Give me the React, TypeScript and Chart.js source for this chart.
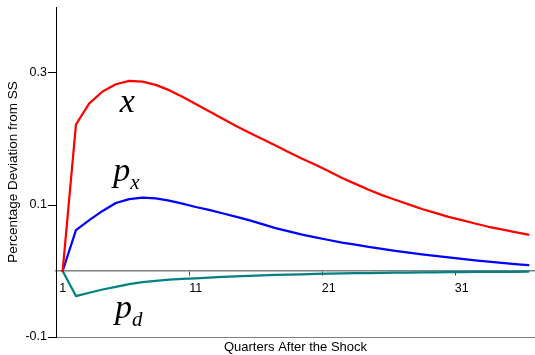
import React, { useEffect, useRef } from "react";
import { Chart, registerables } from "chart.js";

Chart.register(...registerables);

// Quarters after the shock (category axis)
const quarters = [
  "1", "2", "3", "4", "5", "6", "7", "8", "9", "10",
  "11", "12", "13", "14", "15", "16", "17", "18", "19", "20",
  "21", "22", "23", "24", "25", "26", "27", "28", "29", "30",
  "31", "32", "33", "34", "35", "36",
];

// Impulse responses, deviation from steady state
const outputX = [
  0, 0.222, 0.254, 0.272, 0.283, 0.288, 0.287, 0.282, 0.274, 0.264,
  0.253, 0.242, 0.231, 0.220, 0.210, 0.200, 0.190, 0.180, 0.170, 0.161,
  0.151, 0.141, 0.132, 0.123, 0.115, 0.108, 0.101, 0.094, 0.088, 0.082,
  0.077, 0.072, 0.067, 0.063, 0.059, 0.055,
];
const exportPrice = [
  0, 0.062, 0.077, 0.091, 0.103, 0.109, 0.111, 0.110, 0.1065, 0.102,
  0.097, 0.0925, 0.0875, 0.0825, 0.077, 0.071, 0.065, 0.060, 0.055, 0.051,
  0.047, 0.043, 0.040, 0.0365, 0.0335, 0.0305, 0.0278, 0.0252, 0.0228, 0.0205,
  0.0183, 0.0162, 0.0142, 0.0123, 0.0105, 0.0088,
];
const domesticPrice = [
  0, -0.038, -0.033, -0.028, -0.024, -0.020, -0.017, -0.015, -0.013, -0.012,
  -0.011, -0.010, -0.009, -0.008, -0.0073, -0.0066, -0.006, -0.0055, -0.005, -0.0045,
  -0.0041, -0.0037, -0.0034, -0.0031, -0.0028, -0.0026, -0.0024, -0.0022, -0.002, -0.0018,
  -0.0017, -0.0015, -0.0014, -0.0013, -0.0012, -0.0011,
];

const yTickValues = [-0.1, 0.1, 0.3];
const yTickLabels = ["-0.1", "0.1", "0.3"];
const xLabelEvery = 10;

// Series names drawn beside their curves (category index, value)
const seriesNames = [
  { base: "x", sub: "", index: 4.3, value: 0.241 },
  { base: "p", sub: "x", index: 3.8, value: 0.137 },
  { base: "p", sub: "d", index: 3.93, value: -0.0705 },
];

const serif = '"Liberation Serif", "Times New Roman", serif';
const sans = '"Liberation Sans", Arial, sans-serif';

const seriesNamePlugin = {
  id: "seriesNames",
  afterDatasetsDraw(chart: any) {
    const { ctx, scales } = chart;
    ctx.save();
    ctx.fillStyle = "#000";
    ctx.textAlign = "left";
    ctx.textBaseline = "alphabetic";
    for (const n of seriesNames) {
      const x = scales.x.getPixelForValue(n.index);
      const y = scales.y.getPixelForValue(n.value);
      ctx.font = `italic 34px ${serif}`;
      ctx.fillText(n.base, x, y);
      if (n.sub) {
        const w = ctx.measureText(n.base).width;
        ctx.font = `italic 21px ${serif}`;
        ctx.fillText(n.sub, x + w, y + 8);
      }
    }
    ctx.restore();
  },
};

export default function App() {
  const canvasRef = useRef<HTMLCanvasElement | null>(null);

  useEffect(() => {
    const canvas = canvasRef.current;
    if (!canvas) return;
    const line = (data: number[], color: string) => ({
      data,
      borderColor: color,
      backgroundColor: color,
      borderWidth: 2.25,
      pointRadius: 0,
      tension: 0,
      fill: false,
      borderJoinStyle: "round" as const,
      borderCapStyle: "round" as const,
    });

    const chart = new Chart(canvas, {
      type: "line",
      data: {
        labels: quarters,
        datasets: [
          line(outputX, "#ff0000"),
          line(exportPrice, "#0000ff"),
          line(domesticPrice, "#008080"),
        ],
      },
      options: {
        animation: false,
        responsive: false,
        devicePixelRatio: 1,
        layout: { padding: { top: 7, right: 0, bottom: 0, left: 0 } },
        plugins: {
          legend: { display: false },
          tooltip: { enabled: false },
        },
        scales: {
          x: {
            type: "category",
            position: { y: 0 } as any,
            offset: true,
            grid: {
              offset: true,
              drawOnChartArea: false,
              tickLength: 4,
              lineWidth: 1,
              color: (c: any) =>
                typeof c.index === "number" && c.index > 0 && c.index % xLabelEvery === 0
                  ? "#404040"
                  : "rgba(0,0,0,0)",
            },
            border: { color: "#808080", width: 1.5 },
            ticks: {
              autoSkip: false,
              maxRotation: 0,
              padding: 6,
              color: "#000",
              font: { family: sans, size: 12.5 },
              callback: (_v: any, i: number) => (i % xLabelEvery === 0 ? quarters[i] : ""),
            },
          },
          xb: {
            type: "category",
            position: "bottom",
            offset: true,
            grid: { display: false },
            border: { display: true, color: "#808080", width: 1 },
            ticks: { display: false },
            title: {
              display: true,
              text: "Quarters After the Shock",
              color: "#000",
              font: { family: sans, size: 13 },
              padding: { top: 0, bottom: 0 },
            },
            afterFit: (s: any) => {
              s.height = 18;
            },
          },
          y: {
            type: "linear",
            position: "left",
            min: -0.1,
            max: 0.4,
            afterBuildTicks: (s: any) => {
              s.ticks = yTickValues.map((value) => ({ value }));
            },
            grid: { drawOnChartArea: false, tickLength: 8, color: "#000", lineWidth: 1 },
            border: { color: "#000", width: 1 },
            ticks: {
              padding: 1,
              color: "#000",
              font: { family: sans, size: 12.5 },
              callback: (v: any) => {
                const k = yTickValues.findIndex((t) => Math.abs(t - Number(v)) < 1e-9);
                return k >= 0 ? yTickLabels[k] : "";
              },
            },
            title: {
              display: true,
              text: "Percentage Deviation from SS",
              color: "#000",
              font: { family: sans, size: 13.5 },
              padding: { top: 5, bottom: 0 },
            },
            afterFit: (s: any) => {
              s.width = 56;
              s.paddingTop = 0;
              s.paddingBottom = 0;
            },
          },
        },
      },
      plugins: [seriesNamePlugin],
    });

    return () => chart.destroy();
  }, []);

  return (
    <div style={{ position: "fixed", left: 0, top: 0, width: 535, height: 355, background: "#fff" }}>
      <canvas ref={canvasRef} width={535} height={355} style={{ display: "block", width: 535, height: 355 }} />
    </div>
  );
}
